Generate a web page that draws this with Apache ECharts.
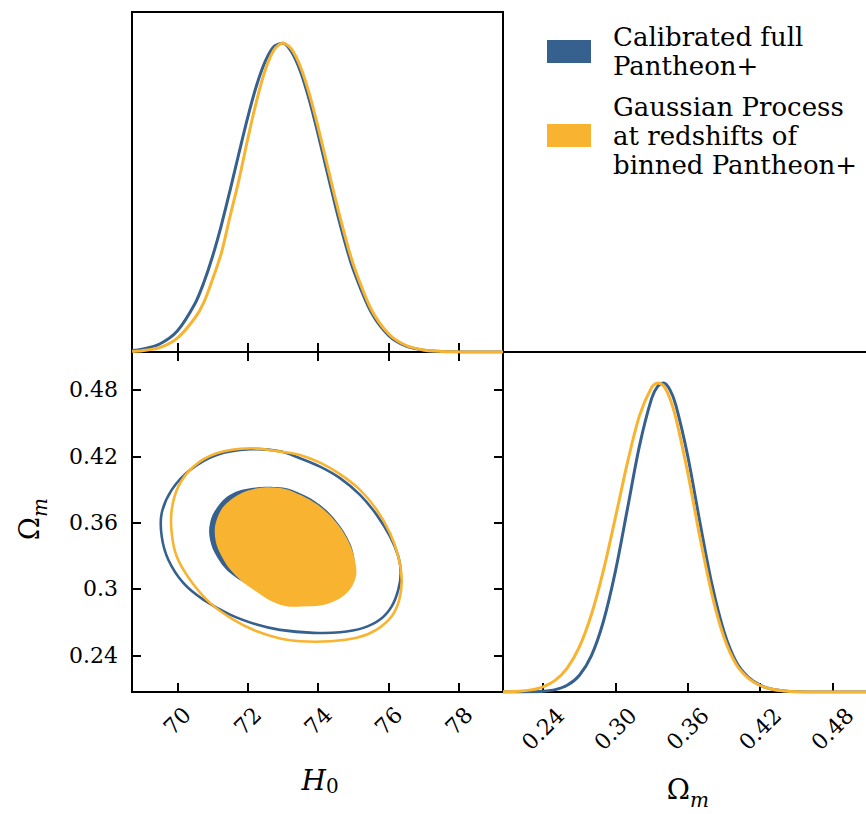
<!DOCTYPE html>
<html><head><meta charset="utf-8">
<script src="https://cdn.jsdelivr.net/npm/echarts@6/dist/echarts.min.js"></script>
<style>html,body{margin:0;padding:0;background:#fff}#c{width:866px;height:814px}</style>
</head><body><div id="c"></div>
<script>
// ---- data ----
const h0Grid = [68.72, 69.0, 69.5, 70.0, 70.5, 70.75, 71.0, 71.25, 71.5, 71.75, 72.0, 72.25, 72.5, 72.75, 73.0, 73.25, 73.5, 73.75, 74.0, 74.25, 74.5, 74.75, 75.0, 75.5, 76.0, 76.5, 77.0, 77.5, 78.0, 78.5, 79.25];
const h0DensityBlue = [0.005, 0.009, 0.026, 0.068, 0.156, 0.224, 0.309, 0.410, 0.524, 0.643, 0.759, 0.862, 0.941, 0.989, 0.999, 0.970, 0.907, 0.815, 0.704, 0.585, 0.468, 0.360, 0.266, 0.130, 0.054, 0.019, 0.006, 0.0015, 0.0003, 0.0, 0.0];
const h0DensityYellow = [0.002, 0.004, 0.014, 0.045, 0.11, 0.16, 0.235, 0.32, 0.44, 0.557, 0.689, 0.812, 0.913, 0.978, 1.0, 0.979, 0.922, 0.835, 0.727, 0.609, 0.491, 0.381, 0.283, 0.140, 0.059, 0.021, 0.0066, 0.0018, 0.0004, 0.0001, 0.0];

const omGrid = [0.2068, 0.22, 0.23, 0.24, 0.25, 0.26, 0.27, 0.28, 0.29, 0.30, 0.31, 0.32, 0.33, 0.335, 0.34, 0.345, 0.35, 0.36, 0.37, 0.38, 0.39, 0.40, 0.41, 0.42, 0.43, 0.44, 0.45, 0.47, 0.5143];
const omDensityBlue = [0.0, 0.0002, 0.0008, 0.0025, 0.0077, 0.0216, 0.0535, 0.117, 0.228, 0.391, 0.594, 0.798, 0.950, 0.989, 1.0, 0.979, 0.929, 0.762, 0.549, 0.348, 0.195, 0.098, 0.048, 0.022, 0.009, 0.0035, 0.0012, 0.0001, 0.0];
const omDensityYellow = [0.0005, 0.0025, 0.0068, 0.0168, 0.0376, 0.0773, 0.145, 0.250, 0.393, 0.565, 0.743, 0.895, 0.985, 1.0, 0.990, 0.951, 0.888, 0.708, 0.501, 0.315, 0.176, 0.090, 0.045, 0.021, 0.009, 0.0035, 0.0012, 0.0001, 0.0];

// 2D contours [H0, Omega_m]
const blueOuter = [[69.557,0.3475],[69.557,0.3686],[69.841,0.3896],[70.361,0.4076],[71.119,0.4212],[72.065,0.4263],[72.917,0.4245],[73.485,0.4182],[74.053,0.4106],[74.621,0.4002],[75.189,0.3851],[75.663,0.3670],[76.041,0.3475],[76.277,0.3294],[76.345,0.3144],[76.277,0.2994],[76.089,0.2843],[75.757,0.2723],[75.283,0.2648],[74.621,0.2608],[73.863,0.2603],[72.917,0.2630],[72.255,0.2678],[71.497,0.2768],[70.738,0.2903],[70.170,0.3054],[69.744,0.3264]];
const blueInner = [[70.929,0.3445],[70.929,0.3596],[71.119,0.3731],[71.497,0.3851],[72.065,0.3911],[72.917,0.3919],[73.485,0.3866],[74.053,0.3761],[74.527,0.3610],[74.905,0.3415],[75.047,0.3235],[75.02,0.310],[74.76,0.2976],[74.34,0.2894],[73.68,0.2867],[72.92,0.2885],[72.15,0.3012],[71.497,0.3144],[71.119,0.3294]];
const yellowOuter = [[69.841,0.3505],[69.841,0.3716],[70.028,0.3926],[70.454,0.4106],[71.119,0.4227],[72.065,0.4272],[72.917,0.4242],[73.485,0.4212],[74.053,0.4142],[74.621,0.4038],[75.189,0.3896],[75.663,0.3716],[76.041,0.3505],[76.277,0.3294],[76.373,0.3084],[76.305,0.2903],[76.089,0.2753],[75.663,0.2633],[75.095,0.2558],[74.337,0.2527],[73.485,0.2527],[72.917,0.2552],[72.255,0.2617],[71.590,0.2723],[70.929,0.2874],[70.361,0.3084],[69.983,0.3294]];
const yellowInner = [[71.071,0.3475],[71.119,0.3625],[71.403,0.3776],[72.065,0.3896],[72.917,0.3914],[73.485,0.3851],[74.053,0.3745],[74.527,0.3596],[74.905,0.3400],[75.075,0.3204],[75.047,0.3084],[74.811,0.2964],[74.337,0.2874],[73.675,0.2843],[72.917,0.2858],[72.158,0.2994],[71.590,0.3144],[71.213,0.3325]];

const h0Ticks = [70, 72, 74, 76, 78];
const h0TickLabels = ['70', '72', '74', '76', '78'];
const omTicks = [0.24, 0.30, 0.36, 0.42, 0.48];
const omXTickLabels = ['0.24', '0.30', '0.36', '0.42', '0.48'];
const omYTickLabels = ['0.24', '0.3', '0.36', '0.42', '0.48'];
const legendBlueLines = ['Calibrated full', 'Pantheon+'];
const legendYellowLines = ['Gaussian Process', 'at redshifts of', 'binned Pantheon+'];

// ---- styling ----
const H0_MIN = 68.713, H0_MAX = 79.25;
const OM_MIN = 0.2068, OM_MAX = 0.5143;
const DENS_MAX = 1.1;
const BLUE = '#36618e', YELLOW = '#f8b431';
const FONT = 'DejaVu Serif';

function labelFor(ticks, labels) {
  return v => { const i = ticks.findIndex(t => Math.abs(t - v) < 1e-9); return i >= 0 ? labels[i] : ''; };
}
const tickStyle = (vals) => ({ show: true, inside: true, length: 9, customValues: vals, lineStyle: { color: '#000', width: 2 } });
const noLabel = { show: false };

function pairs(xs, ys) { return xs.map((x, i) => [x, ys[i]]); }

function contour(points, fill, stroke, z) {
  return {
    type: 'custom', coordinateSystem: 'cartesian2d', xAxisIndex: 1, yAxisIndex: 1,
    data: points, encode: { x: 0, y: 1 }, z: z, silent: true,
    renderItem: function (params, api) {
      if (params.dataIndex !== 0) return null;
      const pts = points.map(p => api.coord(p));
      return {
        type: 'polygon',
        shape: { points: pts, smooth: 0.38 },
        style: fill ? { fill: fill, stroke: null } : { fill: 'none', stroke: stroke, lineWidth: 2.6 }
      };
    }
  };
}

function txt(x, y, text, size, italic, align) {
  return { type: 'text', x: x, y: y, style: { text: text, fontFamily: FONT, fontSize: size,
    fontStyle: italic ? 'italic' : 'normal', align: align, verticalAlign: 'middle', fill: '#000' } };
}

const gridBase = { show: true, borderColor: '#000', borderWidth: 2, backgroundColor: 'transparent', containLabel: false, outerBoundsMode: 'none' };

const option = {
  animation: false,
  backgroundColor: '#fff',
  grid: [
    Object.assign({ left: 132, top: 12, width: 371, height: 340 }, gridBase),
    Object.assign({ left: 132, top: 352, width: 371, height: 340 }, gridBase),
    Object.assign({ left: 503, top: 352, width: 371, height: 340 }, gridBase)
  ],
  xAxis: [
    { type: 'value', gridIndex: 0, min: H0_MIN, max: H0_MAX, axisLine: { show: false }, splitLine: { show: false },
      axisTick: tickStyle(h0Ticks), axisLabel: noLabel },
    { type: 'value', gridIndex: 1, min: H0_MIN, max: H0_MAX, axisLine: { show: false }, splitLine: { show: false },
      axisTick: tickStyle(h0Ticks),
      axisLabel: { show: true, customValues: h0Ticks, formatter: labelFor(h0Ticks, h0TickLabels), rotate: 45,
        align: 'center', verticalAlign: 'middle', margin: 29, fontFamily: FONT, fontSize: 22, color: '#000' } },
    { type: 'value', gridIndex: 1, position: 'top', min: H0_MIN, max: H0_MAX, axisLine: { show: false }, splitLine: { show: false },
      axisTick: tickStyle(h0Ticks), axisLabel: noLabel },
    { type: 'value', gridIndex: 2, min: OM_MIN, max: OM_MAX, axisLine: { show: false }, splitLine: { show: false },
      axisTick: tickStyle(omTicks),
      axisLabel: { show: true, customValues: omTicks, formatter: labelFor(omTicks, omXTickLabels), rotate: 45,
        align: 'center', verticalAlign: 'middle', margin: 37, fontFamily: FONT, fontSize: 22, color: '#000' } }
  ],
  yAxis: [
    { type: 'value', gridIndex: 0, min: 0, max: DENS_MAX, show: false },
    { type: 'value', gridIndex: 1, min: OM_MIN, max: OM_MAX, axisLine: { show: false }, splitLine: { show: false },
      axisTick: tickStyle(omTicks),
      axisLabel: { show: true, customValues: omTicks, formatter: labelFor(omTicks, omYTickLabels), margin: 14,
        fontFamily: FONT, fontSize: 22, color: '#000' } },
    { type: 'value', gridIndex: 1, position: 'right', min: OM_MIN, max: OM_MAX, axisLine: { show: false }, splitLine: { show: false },
      axisTick: tickStyle(omTicks), axisLabel: noLabel },
    { type: 'value', gridIndex: 2, min: 0, max: DENS_MAX, show: false }
  ],
  series: [
    { type: 'line', name: 'blue H0', xAxisIndex: 0, yAxisIndex: 0, data: pairs(h0Grid, h0DensityBlue), smooth: 0.3,
      showSymbol: false, lineStyle: { color: BLUE, width: 3 }, z: 2 },
    { type: 'line', name: 'yellow H0', xAxisIndex: 0, yAxisIndex: 0, data: pairs(h0Grid, h0DensityYellow), smooth: 0.3,
      showSymbol: false, lineStyle: { color: YELLOW, width: 3 }, z: 3 },
    contour(blueInner, BLUE, null, 2),
    contour(blueOuter, null, BLUE, 3),
    contour(yellowInner, YELLOW, null, 4),
    contour(yellowOuter, null, YELLOW, 5),
    { type: 'line', name: 'blue Om', xAxisIndex: 3, yAxisIndex: 3, data: pairs(omGrid, omDensityBlue), smooth: 0.3,
      showSymbol: false, lineStyle: { color: BLUE, width: 3 }, z: 2 },
    { type: 'line', name: 'yellow Om', xAxisIndex: 3, yAxisIndex: 3, data: pairs(omGrid, omDensityYellow), smooth: 0.3,
      showSymbol: false, lineStyle: { color: YELLOW, width: 3 }, z: 3 }
  ],
  graphic: [
    // x title H_0
    txt(326, 780, 'H', 28, true, 'right'),
    txt(326, 786, '0', 20, false, 'left'),
    // x title Omega_m
    txt(690, 789, 'Ω', 28, false, 'right'),
    txt(690, 800, 'm', 20, true, 'left'),
    // y title Omega_m (rotated)
    { type: 'group', x: 29, y: 522, rotation: Math.PI / 2, children: [
      txt(5, 0, 'Ω', 28, false, 'right'),
      txt(5, 11, 'm', 20, true, 'left')
    ] },
    // legend
    { type: 'rect', shape: { x: 547, y: 40, width: 44, height: 23 }, style: { fill: BLUE } },
    { type: 'rect', shape: { x: 547, y: 124, width: 44, height: 23 }, style: { fill: YELLOW } },
    { type: 'text', x: 613, y: 51.5, style: { text: legendBlueLines.join('\n'), align: 'left', verticalAlign: 'middle',
      fontFamily: FONT, fontSize: 26, lineHeight: 29, fill: '#000' } },
    { type: 'text', x: 613, y: 135.7, style: { text: legendYellowLines.join('\n'), align: 'left', verticalAlign: 'middle',
      fontFamily: FONT, fontSize: 26, lineHeight: 29, fill: '#000' } }
  ]
};

const chart = echarts.init(document.getElementById('c'), null, { renderer: 'svg', width: 866, height: 814 });
chart.setOption(option);
</script>
</body></html>
